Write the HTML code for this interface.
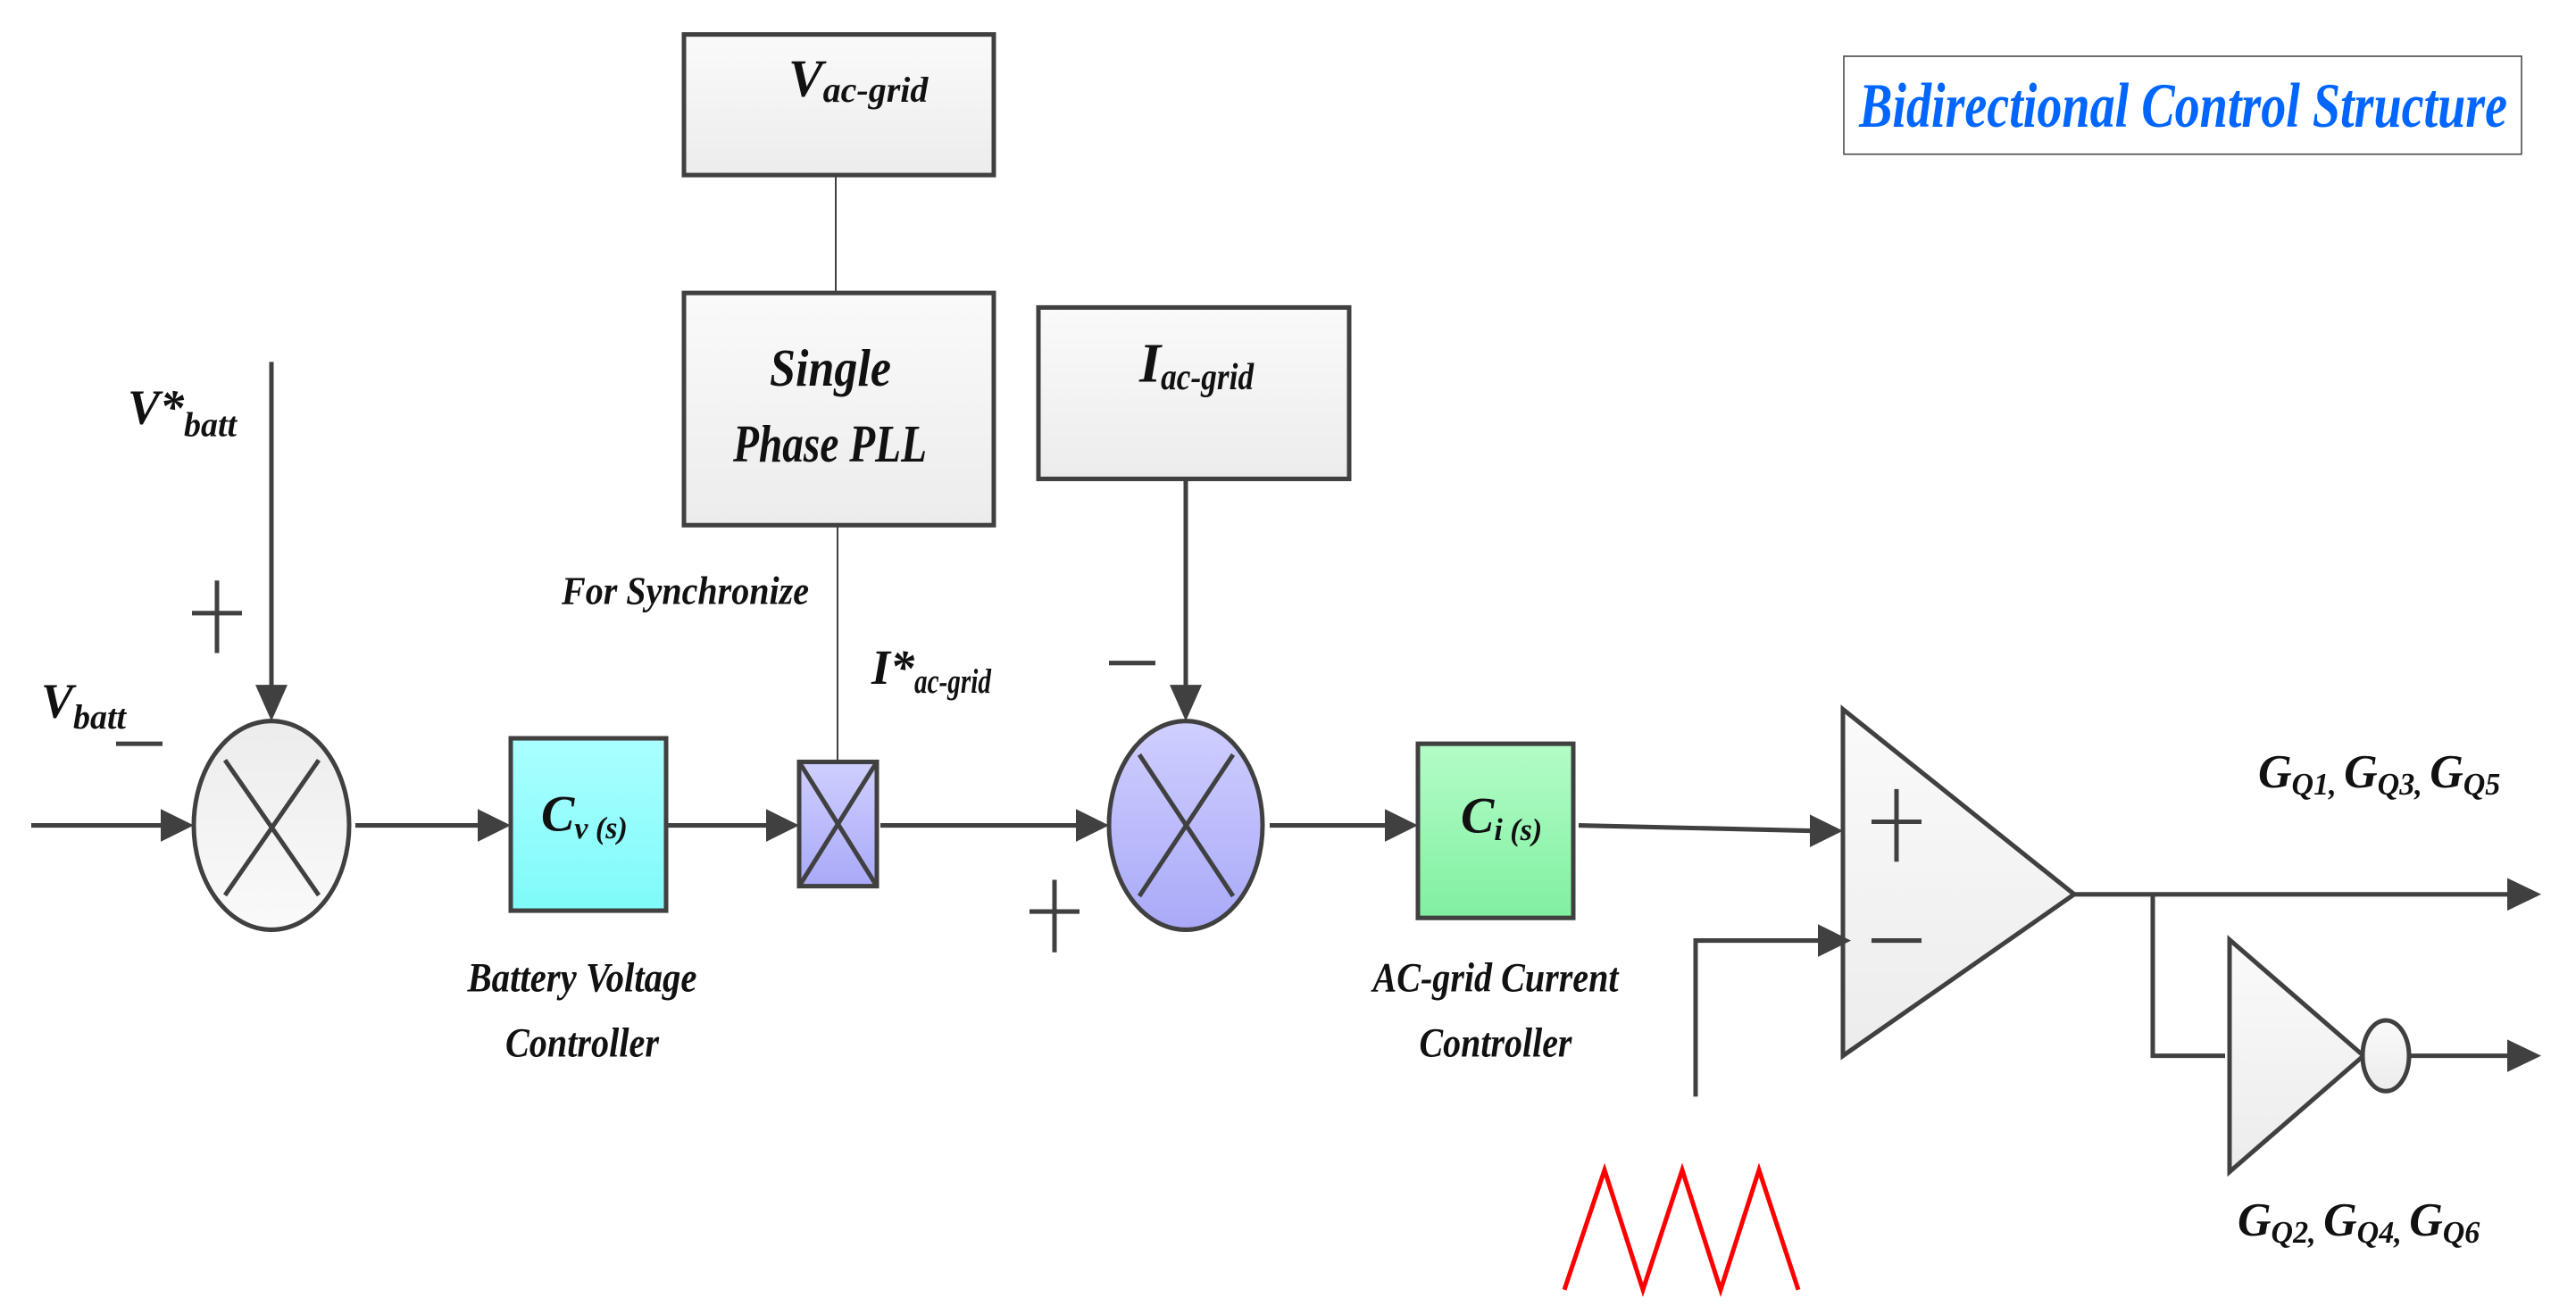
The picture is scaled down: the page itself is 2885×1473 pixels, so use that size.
<!DOCTYPE html>
<html><head><meta charset="utf-8"><style>html,body{margin:0;padding:0;background:#fff}svg{display:block}</style></head><body>
<svg width="2885" height="1473" viewBox="0 0 2885 1473" xmlns="http://www.w3.org/2000/svg" font-family="Liberation Serif, serif" font-style="italic" font-weight="bold">
<defs>
<linearGradient id="gw" x1="0" y1="0" x2="0" y2="1"><stop offset="0" stop-color="#fafafa"/><stop offset="1" stop-color="#ececec"/></linearGradient>
<linearGradient id="gc" x1="0" y1="0" x2="0" y2="1"><stop offset="0" stop-color="#aaffff"/><stop offset="1" stop-color="#7ffafa"/></linearGradient>
<linearGradient id="gg" x1="0" y1="0" x2="0" y2="1"><stop offset="0" stop-color="#b4fcc8"/><stop offset="1" stop-color="#80f0a0"/></linearGradient>
<linearGradient id="gp" x1="0" y1="0" x2="0" y2="1"><stop offset="0" stop-color="#cfcfff"/><stop offset="1" stop-color="#a9a9f8"/></linearGradient>
<linearGradient id="gs" x1="0" y1="0" x2="0" y2="1"><stop offset="0" stop-color="#ececec"/><stop offset="1" stop-color="#fafafa"/></linearGradient>
</defs>
<g transform="scale(1,1.016)">
<g stroke="#404040" stroke-width="5" fill="none">
<rect x="766" y="38" width="347" height="155" fill="url(#gw)"/>
<rect x="766" y="323" width="347" height="256" fill="url(#gw)"/>
<rect x="1163" y="339" width="348" height="189" fill="url(#gw)"/>
<line x1="936" y1="193" x2="936" y2="323" stroke-width="2"/>
<line x1="938" y1="579" x2="938" y2="840" stroke-width="2"/>
<line x1="35" y1="910" x2="185" y2="910"/>
<line x1="398" y1="910" x2="540" y2="910"/>
<line x1="740" y1="910" x2="863" y2="910"/>
<line x1="986" y1="910" x2="1210" y2="910"/>
<line x1="1422" y1="910" x2="1556" y2="910"/>
<line x1="1768" y1="910" x2="2032" y2="916"/>
<line x1="304" y1="399" x2="304" y2="760"/>
<line x1="1328" y1="528" x2="1328" y2="760"/>
<ellipse cx="304" cy="910" rx="87" ry="115" fill="url(#gs)"/>
<line x1="252" y1="838" x2="357" y2="987"/><line x1="357" y1="838" x2="252" y2="987"/>
<rect x="572" y="814" width="174" height="190" fill="url(#gc)"/>
<rect x="895" y="840" width="87" height="137" fill="url(#gp)"/>
<line x1="895" y1="840" x2="982" y2="977"/><line x1="982" y1="840" x2="895" y2="977"/>
<ellipse cx="1328" cy="910" rx="86" ry="115" fill="url(#gp)"/>
<line x1="1276" y1="832" x2="1381" y2="988"/><line x1="1381" y1="832" x2="1276" y2="988"/>
<rect x="1588" y="820" width="174" height="192" fill="url(#gg)"/>
<polygon points="2064,782 2064,1164 2323,986" fill="url(#gw)"/>
<line x1="2124" y1="870" x2="2124" y2="950"/><line x1="2096" y1="906" x2="2152" y2="906"/>
<line x1="2096" y1="1037" x2="2152" y2="1037"/>
<polyline points="1899,1209 1899,1037 2040,1037"/>
<line x1="2323" y1="986" x2="2812" y2="986"/>
<polyline points="2411,986 2411,1164 2492,1164"/>
<polygon points="2497,1036 2497,1292 2647,1164" fill="url(#gw)"/>
<ellipse cx="2672" cy="1164" rx="26" ry="39" fill="url(#gw)"/>
<line x1="2698" y1="1164" x2="2812" y2="1164"/>
<line x1="243" y1="640" x2="243" y2="720"/><line x1="215" y1="676" x2="271" y2="676"/>
<line x1="130" y1="820" x2="182" y2="820"/>
<line x1="1242" y1="731" x2="1294" y2="731"/>
<line x1="1181" y1="970" x2="1181" y2="1050"/><line x1="1153" y1="1005" x2="1209" y2="1005"/>
</g>
<g fill="#404040">
<polygon points="180,892 217,910 180,928"/>
<polygon points="535,892 572,910 535,928"/>
<polygon points="858,892 895,910 858,928"/>
<polygon points="1205,892 1242,910 1205,928"/>
<polygon points="1551,892 1588,910 1551,928"/>
<polygon points="2027,898 2064,916 2027,934"/>
<polygon points="2036,1019 2073,1037 2036,1055"/>
<polygon points="2808,968 2846,986 2808,1004"/>
<polygon points="2808,1146 2846,1164 2808,1182"/>
<polygon points="286,755 322,755 304,795"/>
<polygon points="1310,755 1346,755 1328,795"/>
</g>
<polyline points="1752,1422 1797,1290 1840,1422 1884,1290 1927,1422 1970,1290 2014,1422" stroke="#ff0000" stroke-width="5" fill="none"/>
<rect x="2065" y="62" width="759" height="108" fill="#fff" stroke="#404040" stroke-width="1.5"/>
<text x="2082" y="140" font-size="70" fill="#0066ff" textLength="726" lengthAdjust="spacingAndGlyphs">Bidirectional Control Structure</text>
<g fill="#111">
<text x="883" y="106" font-size="58">V<tspan font-size="40" dy="6">ac-grid</tspan></text>
<text x="930" y="425" font-size="58" text-anchor="middle" textLength="136" lengthAdjust="spacingAndGlyphs">Single</text>
<text x="821" y="509" font-size="58" textLength="217" lengthAdjust="spacingAndGlyphs">Phase PLL</text>
<text x="1276" y="421" font-size="62">I<tspan font-size="42" dy="8" textLength="104" lengthAdjust="spacingAndGlyphs">ac-grid</tspan></text>
<text x="143" y="467" font-size="54">V*<tspan font-size="38" dy="14">batt</tspan></text>
<text x="46" y="791" font-size="54">V<tspan font-size="38" dy="12">batt</tspan></text>
<text x="629" y="666" font-size="44" textLength="277" lengthAdjust="spacingAndGlyphs">For Synchronize</text>
<text x="976" y="754" font-size="54">I*<tspan font-size="38" dy="10" textLength="86" lengthAdjust="spacingAndGlyphs">ac-grid</tspan></text>
<text x="606" y="916" font-size="56">C<tspan font-size="34" dy="8">v (s)</tspan></text>
<text x="1636" y="918" font-size="56">C<tspan font-size="34" dy="8">i (s)</tspan></text>
<text x="652" y="1093" font-size="46" text-anchor="middle" textLength="257" lengthAdjust="spacingAndGlyphs">Battery Voltage</text>
<text x="652" y="1165" font-size="46" text-anchor="middle" textLength="172" lengthAdjust="spacingAndGlyphs">Controller</text>
<text x="1675" y="1093" font-size="46" text-anchor="middle" textLength="275" lengthAdjust="spacingAndGlyphs">AC-grid Current</text>
<text x="1675" y="1165" font-size="46" text-anchor="middle" textLength="171" lengthAdjust="spacingAndGlyphs">Controller</text>
<text x="2529" y="868" font-size="52">G<tspan font-size="34" dy="8">Q1, </tspan><tspan font-size="52" dy="-8">G</tspan><tspan font-size="34" dy="8">Q3, </tspan><tspan font-size="52" dy="-8">G</tspan><tspan font-size="34" dy="8">Q5</tspan></text>
<text x="2506" y="1362" font-size="52">G<tspan font-size="34" dy="8">Q2, </tspan><tspan font-size="52" dy="-8">G</tspan><tspan font-size="34" dy="8">Q4, </tspan><tspan font-size="52" dy="-8">G</tspan><tspan font-size="34" dy="8">Q6</tspan></text>
</g>
</g>
</svg>
</body></html>
